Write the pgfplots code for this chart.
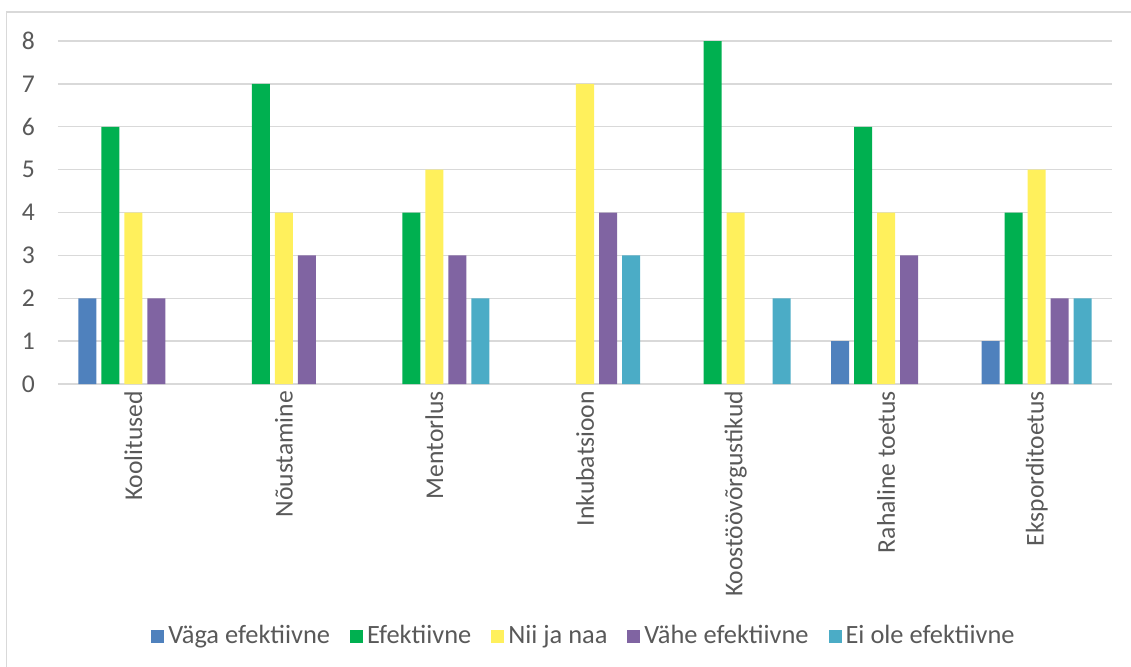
\documentclass[border=0pt]{standalone}
\usepackage{pgfplots}
\pgfplotsset{compat=1.18}
\usepackage{fontspec}
\setmainfont{Carlito}
\definecolor{cblue}{HTML}{4F81BD}
\definecolor{cgreen}{HTML}{00B050}
\definecolor{cyellow}{HTML}{FFF05C}
\definecolor{cpurple}{HTML}{8064A2}
\definecolor{cteal}{HTML}{4BACC6}
\definecolor{txt}{HTML}{595959}
\definecolor{gridc}{HTML}{D9D9D9}
\begin{document}
\begin{tikzpicture}
\useasboundingbox (-29pt,-141pt) rectangle (536.5pt,192pt);
\draw[gridc, line width=0.9pt] (-25.75pt,-150pt) -- (-25.75pt,186pt) -- (545pt,186pt);
\begin{axis}[
  at={(0pt,0pt)}, anchor=south west,
  scale only axis, width=527pt, height=171.5pt,
  ybar=2.5pt, bar width=9pt,
  xmin=-0.5, xmax=6.5, ymin=0, ymax=8,
  xtick={0,1,2,3,4,5,6},
  xticklabels={Koolitused,Nõustamine,Mentorlus,Inkubatsioon,Koostöövõrgustikud,Rahaline toetus,Eksporditoetus},
  ytick={0,1,2,3,4,5,6,7,8},
  axis line style={draw=none},
  major tick length=0pt,
  ymajorgrids, grid style={gridc, line width=0.7pt},
  tick label style={font=\fontsize{12.8pt}{14pt}\selectfont, text=txt},
  /pgf/number format/assume math mode=true,
  xticklabel style={rotate=90, anchor=east, yshift=0pt},
  yticklabel style={xshift=-8pt},
  legend columns=5,
  legend style={at={(0.5,-0.735)}, anchor=center, draw=none, fill=none,
    font=\fontsize{13.2pt}{15pt}\selectfont, text=txt,
    /tikz/every even column/.append style={column sep=8pt}},
  legend image code/.code={\fill[#1] (0pt,-3.25pt) rectangle (6.5pt,3.25pt);},
]
\addplot[fill=cblue, draw=none] coordinates {(0,2) (5,1) (6,1)};
\addplot[fill=cgreen, draw=none] coordinates {(0,6) (1,7) (2,4) (4,8) (5,6) (6,4)};
\addplot[fill=cyellow, draw=none] coordinates {(0,4) (1,4) (2,5) (3,7) (4,4) (5,4) (6,5)};
\addplot[fill=cpurple, draw=none] coordinates {(0,2) (1,3) (2,3) (3,4) (5,3) (6,2)};
\addplot[fill=cteal, draw=none] coordinates {(2,2) (3,3) (4,2) (6,2)};
\legend{Väga efektiivne,Efektiivne,Nii ja naa,Vähe efektiivne,Ei ole efektiivne}
\end{axis}
\end{tikzpicture}
\end{document}
